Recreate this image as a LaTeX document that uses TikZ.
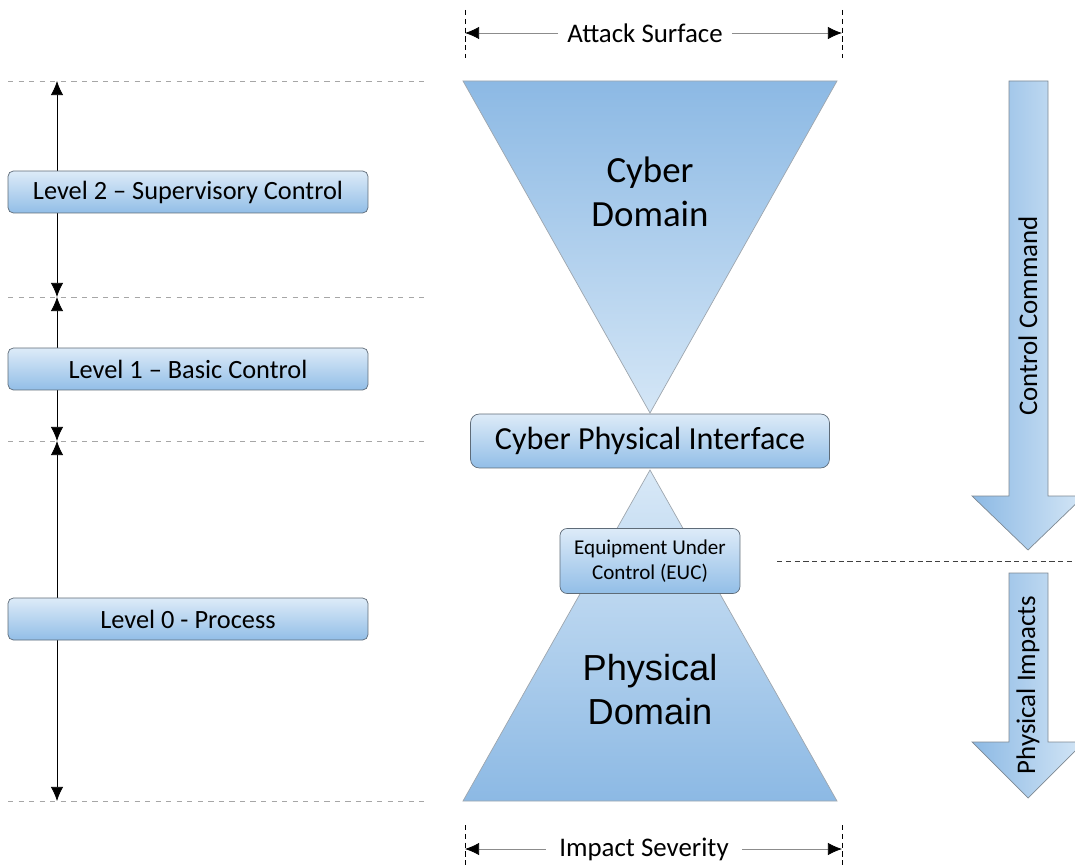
\documentclass[tikz,border=0pt]{standalone}
\usepackage{fontspec}
\setmainfont{Carlito}
\newfontfamily\arialike{Liberation Sans}
\usetikzlibrary{arrows.meta}
\definecolor{boxtop}{HTML}{DDEBF8}
\definecolor{boxbot}{HTML}{92BEE7}
\definecolor{deepblue}{HTML}{8CB9E4}
\definecolor{paleblue}{HTML}{D4E6F6}
\definecolor{edgegray}{HTML}{5E6B78}
\definecolor{guidegray}{HTML}{A6A6A6}

\tikzset{
  levelbox/.style={draw=edgegray, rounded corners=3pt, top color=boxtop, bottom color=boxbot,
    minimum width=7.2cm, minimum height=0.84cm, font=\fontsize{15}{18}\selectfont},
  cpibox/.style={draw=edgegray, rounded corners=5pt, top color=boxtop, bottom color=boxbot,
    minimum width=7.18cm, minimum height=1.08cm, font=\fontsize{18.3}{22}\selectfont},
  eucbox/.style={draw=edgegray, rounded corners=4pt, top color=boxtop, bottom color=boxbot,
    minimum width=3.6cm, minimum height=1.3cm, align=center, font=\fontsize{12}{14.5}\selectfont},
  labeltext/.style={font=\fontsize{15.3}{18}\selectfont},
  guide/.style={draw=guidegray, dashed, thin},
  tickline/.style={draw=black, densely dashed, thin},
  spanline/.style={draw=black!45, thin, -{Latex[length=8pt,width=7pt,color=black]}},
  levelarrow/.style={draw=black, thin, {Latex[length=8pt,width=7pt]}-{Latex[length=8pt,width=7pt]}},
  flowarrow/.style={draw=edgegray!80, left color=deepblue, right color=paleblue}
}

\begin{document}
\begin{tikzpicture}[x=0.02cm, y=-0.02cm]
  \useasboundingbox (0,0) rectangle (1075,868);

  % level guides and spans
  \foreach \y in {81,297,441,801}
    \draw[guide] (8,\y) -- (428,\y);
  \coordinate (g0) at (57,81);
  \coordinate (g1) at (57,297);
  \coordinate (g2) at (57,441);
  \coordinate (g3) at (57,801);
  \draw[levelarrow] (g0) -- (g1);
  \draw[levelarrow] (g1) -- (g2);
  \draw[levelarrow] (g2) -- (g3);
  \node[levelbox] (lvl2) at (188,192) {Level 2 -- Supervisory Control};
  \node[levelbox] (lvl1) at (188,369) {Level 1 -- Basic Control};
  \node[levelbox] (lvl0) at (188,619) {Level 0 - Process};

  % attack surface
  \draw[tickline] (465,10) -- (465,58);
  \draw[tickline] (842,10) -- (842,58);
  \coordinate (atkL) at (465,33);
  \coordinate (atkR) at (842,33);
  \node[labeltext, inner xsep=5pt] (atk) at (645,33) {Attack Surface};
  \draw[spanline] (atk.west) -- (atkL);
  \draw[spanline] (atk.east) -- (atkR);

  % cyber and physical domains
  \path[draw=edgegray!60, top color=deepblue, bottom color=paleblue]
    (463,81) -- (837,81) -- (650,413) -- cycle;
  \path[draw=edgegray!60, top color=paleblue!90, bottom color=deepblue]
    (650,470) -- (837,801) -- (463,801) -- cycle;
  \node[align=center, font=\fontsize{21}{25}\selectfont] (cyber) at (650,192) {Cyber\\Domain};
  \node[align=center, font=\arialike\fontsize{20.6}{25}\selectfont] (phys) at (650,690) {Physical\\Domain};
  \node[cpibox] (cpi) at (650,441) {Cyber Physical Interface};
  \node[eucbox] (euc) at (650,561) {Equipment Under\\Control (EUC)};

  % impact severity
  \draw[tickline] (465,825) -- (465,868);
  \draw[tickline] (842,825) -- (842,868);
  \coordinate (impL) at (465,849);
  \coordinate (impR) at (842,849);
  \node[labeltext, inner xsep=7.5pt] (imp) at (644,849) {Impact Severity};
  \draw[spanline] (imp.west) -- (impL);
  \draw[spanline] (imp.east) -- (impR);

  % control command and physical impacts
  \path[flowarrow] (1009,81) -- (1048,81) -- (1048,496) -- (1084,496) -- (1028,550)
    -- (972,496) -- (1009,496) -- cycle;
  \node[labeltext, rotate=90] (ctrl) at (1028,316) {Control Command};
  \coordinate (splitL) at (777,561);
  \coordinate (splitR) at (1075,561);
  \draw[densely dashed, black!75, thin] (splitL) -- (splitR);
  \path[flowarrow] (1009,573) -- (1048,573) -- (1048,742) -- (1084,742) -- (1028,798)
    -- (972,742) -- (1009,742) -- cycle;
  \node[labeltext, rotate=90] (impacts) at (1028,685) {Physical Impacts};
\end{tikzpicture}
\end{document}
